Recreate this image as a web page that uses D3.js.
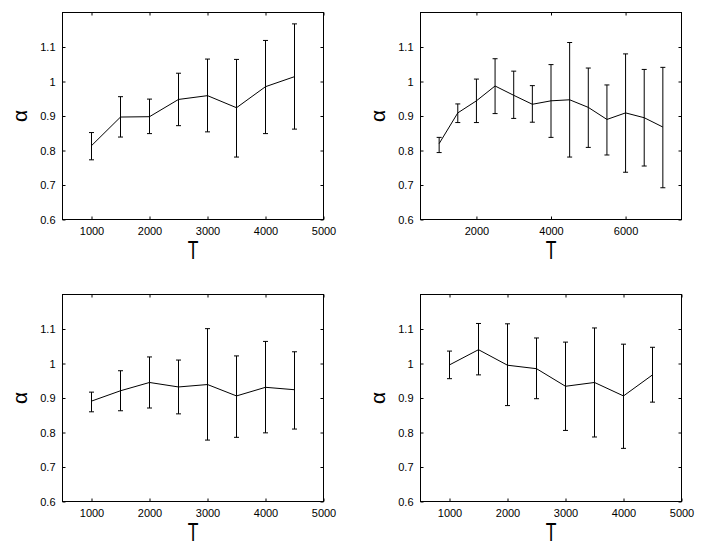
<!DOCTYPE html>
<html><head><meta charset="utf-8">
<script src="https://cdn.jsdelivr.net/npm/d3@7"></script>
<style>body{margin:0;background:#fff}svg{display:block}</style>
</head><body>
<svg id="c" width="703" height="550"></svg>
<script>
// ---- data ----
const yTicks = [0.6, 0.7, 0.8, 0.9, 1.0, 1.1];
const yTickLabels = ["0.6", "0.7", "0.8", "0.9", "1", "1.1"];
const xTicksShort = [1000, 2000, 3000, 4000, 5000];
const xTicksLong = [2000, 4000, 6000];
const xLabel = "T";
const yLabel = "α";

const T1 = [1000, 1500, 2000, 2500, 3000, 3500, 4000, 4500];
const alpha1 = [0.814, 0.897, 0.898, 0.948, 0.959, 0.924, 0.985, 1.014];
const upper1 = [0.852, 0.956, 0.949, 1.024, 1.065, 1.064, 1.119, 1.167];
const lower1 = [0.773, 0.839, 0.849, 0.872, 0.854, 0.781, 0.849, 0.862];

const T2 = [1000, 1500, 2000, 2500, 3000, 3500, 4000, 4500, 5000, 5500, 6000, 6500, 7000];
const alpha2 = [0.820, 0.909, 0.944, 0.987, 0.960, 0.934, 0.944, 0.947, 0.925, 0.890, 0.909, 0.895, 0.868];
const upper2 = [0.838, 0.935, 1.007, 1.066, 1.030, 0.988, 1.049, 1.113, 1.039, 0.990, 1.080, 1.035, 1.041];
const lower2 = [0.794, 0.881, 0.881, 0.907, 0.893, 0.882, 0.838, 0.781, 0.809, 0.787, 0.737, 0.755, 0.692];

const T3 = [1000, 1500, 2000, 2500, 3000, 3500, 4000, 4500];
const alpha3 = [0.891, 0.921, 0.945, 0.932, 0.939, 0.906, 0.931, 0.924];
const upper3 = [0.917, 0.979, 1.019, 1.010, 1.101, 1.022, 1.064, 1.034];
const lower3 = [0.860, 0.863, 0.871, 0.854, 0.778, 0.786, 0.799, 0.810];

const T4 = [1000, 1500, 2000, 2500, 3000, 3500, 4000, 4500];
const alpha4 = [0.996, 1.040, 0.995, 0.985, 0.934, 0.945, 0.906, 0.967];
const upper4 = [1.036, 1.116, 1.115, 1.074, 1.062, 1.103, 1.056, 1.047];
const lower4 = [0.956, 0.967, 0.878, 0.898, 0.806, 0.787, 0.754, 0.888];

// ---- layout ----
const panels = [
  {T: T1, a: alpha1, up: upper1, lo: lower1, xdom: [500, 5000], xt: xTicksShort, left: 62.5, top: 12.5},
  {T: T2, a: alpha2, up: upper2, lo: lower2, xdom: [500, 7500], xt: xTicksLong, left: 420.5, top: 12.5},
  {T: T3, a: alpha3, up: upper3, lo: lower3, xdom: [500, 5000], xt: xTicksShort, left: 62.5, top: 294.5},
  {T: T4, a: alpha4, up: upper4, lo: lower4, xdom: [500, 5000], xt: xTicksShort, left: 420.5, top: 294.5}
];
const W = 261, H = 207;
const font = "'Liberation Sans', Arial, Helvetica, sans-serif";
const svg = d3.select("#c");

panels.forEach(p => {
  const g = svg.append("g").attr("transform", `translate(${p.left},${p.top})`);
  const x = d3.scaleLinear().domain(p.xdom).range([0, W]);
  const y = d3.scaleLinear().domain([0.6, 1.2]).range([H, 0]);

  // ticks (inward, all sides)
  const tl = 3;
  const axB = d3.axisBottom(x).tickValues(p.xt).tickSizeInner(-tl).tickSizeOuter(0).tickPadding(8).tickFormat(d3.format("d"));
  const axT = d3.axisTop(x).tickValues(p.xt).tickSizeInner(-tl).tickSizeOuter(0).tickFormat("");
  const axL = d3.axisLeft(y).tickValues(yTicks).tickSizeInner(-tl).tickSizeOuter(0).tickPadding(7).tickFormat((d, i) => yTickLabels[i]);
  const axR = d3.axisRight(y).tickValues(yTicks).tickSizeInner(-tl).tickSizeOuter(0).tickFormat("");

  const styleAx = sel => {
    sel.select(".domain").remove();
    sel.selectAll("line").attr("stroke", "#000");
    sel.selectAll("text").attr("fill", "#000").style("font-family", font).style("font-size", "11px");
  };
  g.append("g").attr("transform", `translate(0,${H})`).call(axB).call(styleAx);
  g.append("g").call(axT).call(styleAx);
  g.append("g").call(axL).call(styleAx);
  g.append("g").attr("transform", `translate(${W},0)`).call(axR).call(styleAx);

  // box
  g.append("rect").attr("x", 0).attr("y", 0).attr("width", W).attr("height", H)
    .attr("fill", "none").attr("stroke", "#000").attr("stroke-width", 1);

  // data line
  const pts = p.T.map((t, i) => [t, p.a[i]]);
  g.append("path").datum(pts)
    .attr("d", d3.line().x(d => x(d[0])).y(d => y(d[1])))
    .attr("fill", "none").attr("stroke", "#000").attr("stroke-width", 1);

  // error bars
  const eb = g.append("g").attr("stroke", "#000").attr("stroke-width", 1);
  const cap = 2.5;
  p.T.forEach((t, i) => {
    const cx = x(t);
    eb.append("line").attr("x1", cx).attr("x2", cx).attr("y1", y(p.lo[i])).attr("y2", y(p.up[i]));
    eb.append("line").attr("x1", cx - cap).attr("x2", cx + cap).attr("y1", y(p.lo[i])).attr("y2", y(p.lo[i]));
    eb.append("line").attr("x1", cx - cap).attr("x2", cx + cap).attr("y1", y(p.up[i])).attr("y2", y(p.up[i]));
  });

  // axis labels
  g.append("text").text(xLabel)
    .attr("transform", `translate(${W / 2},${H + 39}) scale(0.7,1)`)
    .attr("text-anchor", "middle")
    .style("font-family", font).style("font-size", "25px").attr("fill", "#000");
  g.append("text").text(yLabel)
    .attr("transform", `translate(${-36},${H / 2}) rotate(-90)`)
    .attr("text-anchor", "middle")
    .style("font-family", font).style("font-size", "21px").attr("fill", "#000");
});
</script>
</body></html>
